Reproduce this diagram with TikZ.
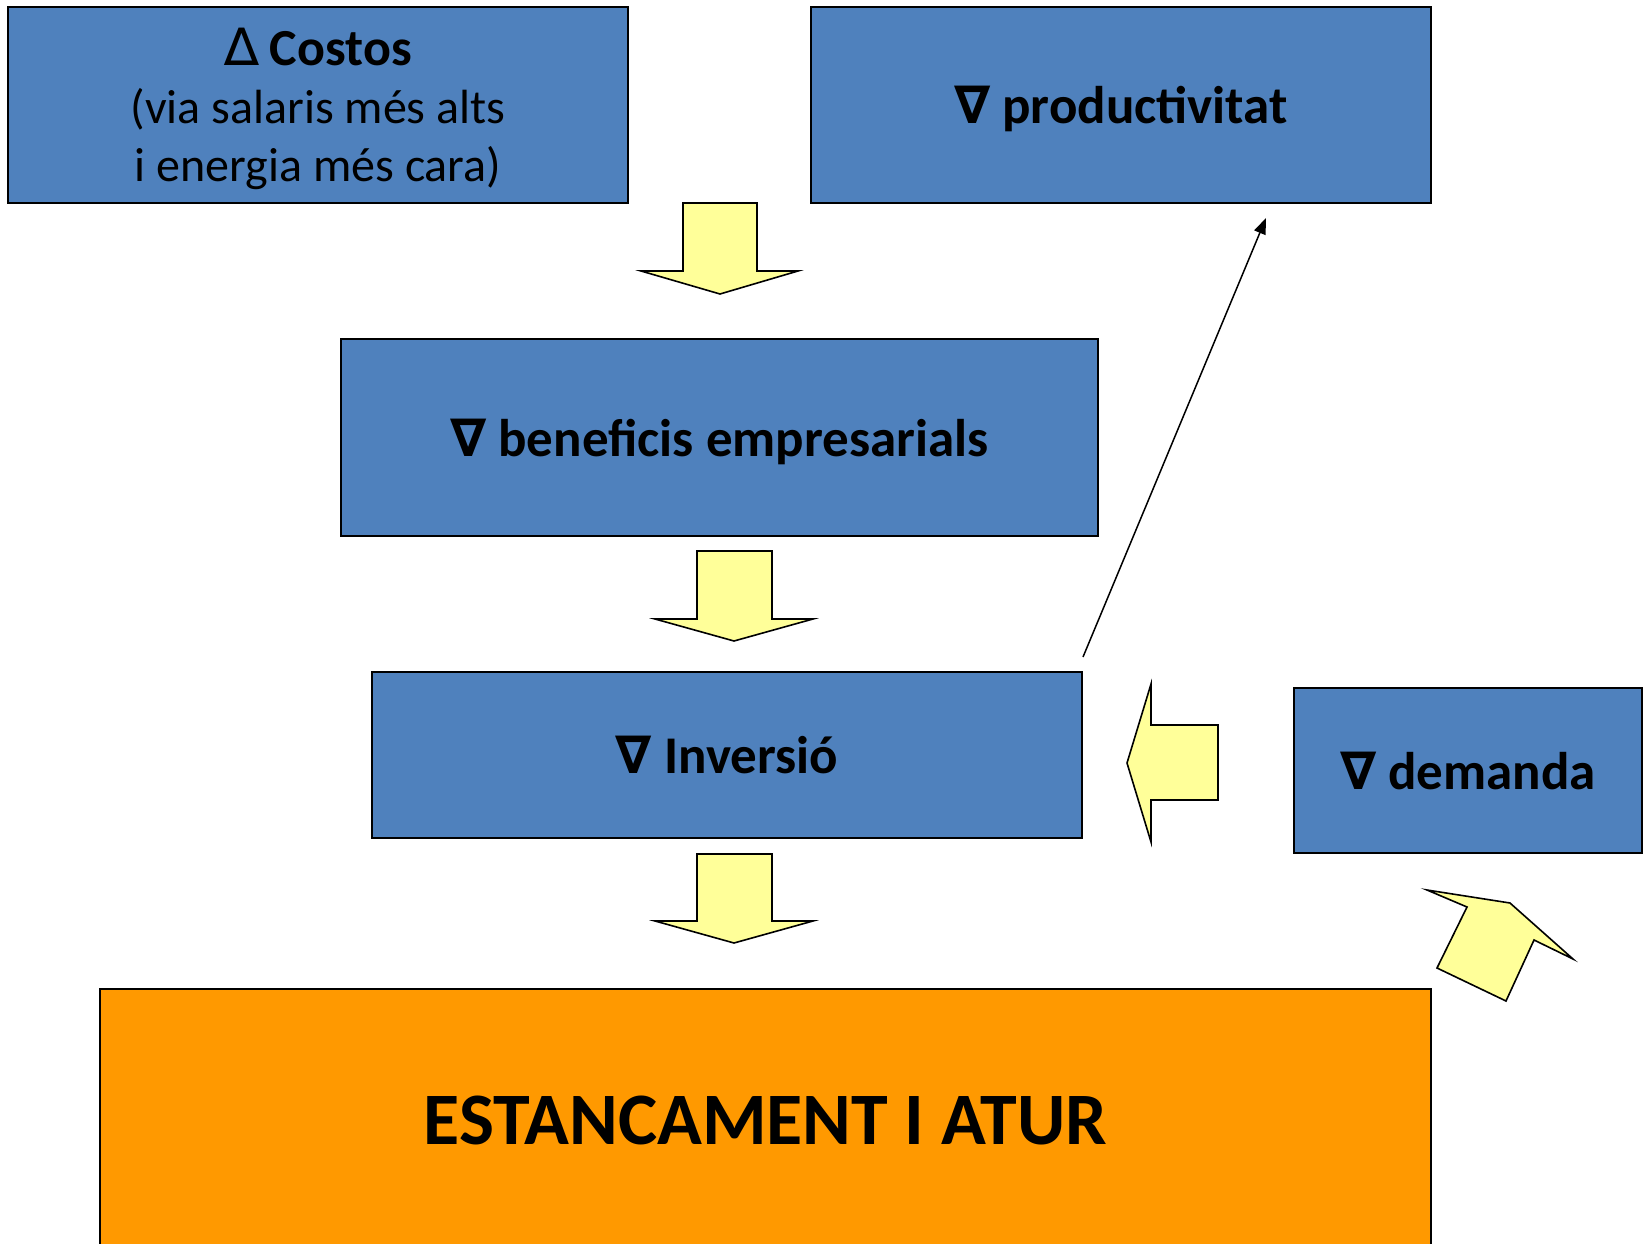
\documentclass[tikz,border=0pt]{standalone}
\usepackage{fontspec}
\setmainfont{Carlito}
\newfontfamily\symf{DejaVu Sans}
\usetikzlibrary{arrows.meta}
\definecolor{boxblue}{HTML}{4F81BD}
\definecolor{boxorange}{HTML}{FF9900}
\definecolor{arrowyellow}{HTML}{FFFF99}
\newcommand{\tri}[1]{{\fontsize{52}{58}\selectfont\symf #1}}
\begin{document}
\begin{tikzpicture}[x=1pt,y=-1pt,
  box/.style={draw=black, line width=1.6pt, fill=boxblue, inner sep=0pt, align=center,
              text depth=0pt, font=\fontsize{53}{64}\selectfont\bfseries},
  endbox/.style={box, fill=boxorange, font=\fontsize{74}{88}\selectfont\bfseries},
  blockarrow/.style={draw=black, line width=1.6pt, fill=arrowyellow, line join=miter},
  thinarrow/.style={draw=black, line width=1.5pt, -{Triangle[length=16pt,width=12pt]}}]
\useasboundingbox (0,0) rectangle (1647,1244);

\node[box, minimum width=620pt, minimum height=196pt, font=\fontsize{48}{58}\selectfont] (costos) at (318,105)
  {{\tri{∆} \fontsize{52}{58}\selectfont\bfseries Costos}\\(via salaris més alts\\i energia més cara)};
\node[box, minimum width=620pt, minimum height=196pt] (prod) at (1121,105) {\tri{∇} productivitat};
\node[box, minimum width=757pt, minimum height=197pt] (benef) at (719.5,437.5) {\tri{∇} beneficis empresarials};
\node[box, minimum width=710pt, minimum height=166pt] (inv) at (727,755) {\tri{∇} Inversió};
\node[box, minimum width=348pt, minimum height=165pt] (dem) at (1468,770.5) {\tri{∇} demanda};
\node[endbox, minimum width=1331pt, minimum height=263pt] (atur) at (765.5,1120.5) {ESTANCAMENT I ATUR};

% block arrows
\draw[blockarrow] (683,203) -- (757,203) -- (757,271) -- (798,271) -- (720,294) -- (641,271) -- (683,271) -- cycle;
\draw[blockarrow] (697,551) -- (772,551) -- (772,619) -- (813,619) -- (734,641) -- (655,619) -- (697,619) -- cycle;
\draw[blockarrow] (697,854) -- (772,854) -- (772,921) -- (813,921) -- (734,943) -- (655,921) -- (697,921) -- cycle;
\draw[blockarrow] (1218,725) -- (1218,800) -- (1151,800) -- (1151,842) -- (1127,763) -- (1151,684) -- (1151,725) -- cycle;
\draw[blockarrow] (1427,890) -- (1510,903) -- (1573,959) -- (1534,940) -- (1506,1001) -- (1437,968) -- (1467,907) -- cycle;

% thin arrow
\coordinate (t0) at (1083,657);
\coordinate (t1) at (1266,218);
\draw[thinarrow] (t0) -- (t1);
\end{tikzpicture}
\end{document}
